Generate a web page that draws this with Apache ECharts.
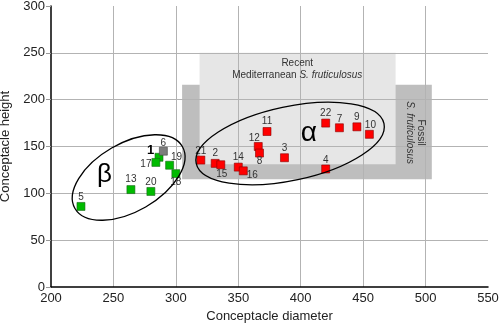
<!DOCTYPE html>
<html><head><meta charset="utf-8">
<script src="https://cdn.jsdelivr.net/npm/echarts@6/dist/echarts.min.js"></script>
<style>html,body{margin:0;padding:0;background:#fff}#c{width:500px;height:326px}</style>
</head><body><div id="c"></div>
<script>
// ---- data ----
const xTickValues = [200, 250, 300, 350, 400, 450, 500, 550];
const yTickValues = [0, 50, 100, 150, 200, 250, 300];

const betaIds      = ['5', '13', '20', '1', '17', '19', '18'];
const betaDiameter = [224, 264, 280, 286.5, 284, 295, 300];
const betaHeight   = [86, 104, 102, 138.5, 133, 130, 121];

const grayIds      = ['6'];
const grayDiameter = [290];
const grayHeight   = [145];

const alphaIds      = ['21', '2', '15', '14', '16', '12', '8', '11', '3', '4', '22', '7', '9', '10'];
const alphaDiameter = [320, 331.5, 336, 350, 354, 366, 367, 373, 387, 420, 420, 431, 445, 455];
const alphaHeight   = [135.5, 132, 130.5, 128, 124, 150, 143, 166, 138, 126, 175, 170, 171, 163];

// annotation regions (data units)
const fossilDiameter = [305, 505];
const fossilHeight   = [115, 216];
const recentDiameter = [319, 476];
const recentHeight   = [131, 250];

// ---- styling / placement ----
const FONT = 'Liberation Sans, Arial, sans-serif';
const labelOffset = {
  '5':[0,-9], '13':[0,-10], '20':[0,-9.5], '1':[-8.5,-7], '17':[-10,2], '6':[0,-8],
  '19':[7,-8], '18':[0,9], '21':[0,-9], '2':[0,-10], '15':[1,9], '14':[0,-10],
  '16':[9,4], '12':[-4,-8], '8':[0,8], '11':[0,-10], '3':[0,-9], '4':[0,-9],
  '22':[0,-10], '7':[0,-9], '9':[0,-10], '10':[1,-9]
};

function pts(ids, xs, ys) {
  return ids.map((id, i) => {
    const bold = id === '1';
    return {
      name: id,
      value: [xs[i], ys[i]],
      label: {
        offset: labelOffset[id],
        fontSize: bold ? 13 : 10,
        fontWeight: bold ? 'bold' : 'normal',
        color: bold ? '#000' : '#333'
      }
    };
  });
}

const baseLabel = {
  show: true, position: 'inside', fontFamily: FONT,
  formatter: p => p.name
};

const chart = echarts.init(document.getElementById('c'), null, {renderer: 'canvas'});

chart.setOption({
  animation: false,
  backgroundColor: '#fff',
  grid: {left: 51, right: 12, top: 6, bottom: 39, containLabel: false, outerBoundsMode: 'none'},
  xAxis: {
    type: 'value', min: xTickValues[0], max: xTickValues[xTickValues.length - 1], interval: 50,
    z: 2,
    name: 'Conceptacle diameter', nameLocation: 'middle', nameGap: 22,
    nameTextStyle: {fontFamily: FONT, fontSize: 13, color: '#222'},
    axisLine: {show: true, lineStyle: {color: '#000', width: 1.5}},
    axisTick: {show: false},
    axisLabel: {fontFamily: FONT, fontSize: 13, color: '#222', margin: 5},
    splitLine: {show: true, showMinLine: false, showMaxLine: false, lineStyle: {color: '#b3b3b3', width: 1}}
  },
  yAxis: {
    type: 'value', min: yTickValues[0], max: yTickValues[yTickValues.length - 1], interval: 50,
    z: 2,
    name: 'Conceptacle height', nameLocation: 'middle', nameGap: 37,
    nameTextStyle: {fontFamily: FONT, fontSize: 13, color: '#222'},
    axisLine: {show: true, lineStyle: {color: '#000', width: 1.5}},
    axisTick: {show: true, length: 5, lineStyle: {color: '#999'}},
    axisLabel: {fontFamily: FONT, fontSize: 13, color: '#222', margin: 6},
    splitLine: {show: true, showMinLine: false, showMaxLine: false, lineStyle: {color: '#b3b3b3', width: 1}}
  },
  series: [
    {
      type: 'line', data: [], silent: true, z: 1,
      markArea: {
        silent: true, z: 1,
        label: {show: false},
        data: [
          [{xAxis: fossilDiameter[0], yAxis: fossilHeight[0], itemStyle: {color: '#bebebe'}},
           {xAxis: fossilDiameter[1], yAxis: fossilHeight[1]}],
          [{xAxis: recentDiameter[0], yAxis: recentHeight[0], itemStyle: {color: '#e6e6e6'}},
           {xAxis: recentDiameter[1], yAxis: recentHeight[1]}]
        ]
      }
    },
    {
      type: 'scatter', z: 5, symbol: 'rect', symbolSize: 8,
      itemStyle: {color: '#00bb00', borderColor: '#1a661a', borderWidth: 0.6, opacity: 1},
      label: baseLabel,
      data: pts(betaIds, betaDiameter, betaHeight)
    },
    {
      type: 'scatter', z: 5, symbol: 'rect', symbolSize: 8,
      itemStyle: {color: '#7d7d7d', borderColor: '#444', borderWidth: 0.6, opacity: 1},
      label: baseLabel,
      data: pts(grayIds, grayDiameter, grayHeight)
    },
    {
      type: 'scatter', z: 5, symbol: 'rect', symbolSize: 8,
      itemStyle: {color: '#ff0000', borderColor: '#8a0000', borderWidth: 0.6, opacity: 1},
      label: baseLabel,
      data: pts(alphaIds, alphaDiameter, alphaHeight)
    }
  ]
});

// ---- annotations placed through the axes ----
const toPx = (x, y) => chart.convertToPixel({gridIndex: 0}, [x, y]);
const ellipses = [
  {center: [391.5, 153.2], rx: 96, ry: 37, angle: 12},
  {center: [262.2, 116.9], rx: 62, ry: 34, angle: 30}
];
const graphics = [];
ellipses.forEach(e => {
  const p = toPx(e.center[0], e.center[1]);
  graphics.push({
    type: 'ellipse', x: p[0], y: p[1], rotation: e.angle * Math.PI / 180, z: 10, silent: true,
    shape: {cx: 0, cy: 0, rx: e.rx, ry: e.ry},
    style: {fill: null, stroke: '#000', lineWidth: 1.3}
  });
});
function textAt(x, y, text, opts) {
  const p = toPx(x, y);
  graphics.push(Object.assign({
    type: 'text', x: p[0], y: p[1], z: 11, silent: true,
    style: Object.assign({
      text: text, fontFamily: FONT, fontSize: 10, fill: '#333',
      align: 'center', verticalAlign: 'middle', lineHeight: 12,
      rich: {i: {fontStyle: 'italic', fontFamily: FONT, fontSize: 10, fill: '#333', lineHeight: 12}}
    }, opts.style || {})
  }, opts.el || {}));
}
textAt(397.2, 232.5, 'Recent\nMediterranean {i|S. fruticulosus}', {});
textAt(492.1, 164.9, 'Fossil\n{i|S. fruticulosus}', {el: {rotation: -Math.PI / 2}, style: {lineHeight: 11, rich: {i: {fontStyle: 'italic', fontFamily: FONT, fontSize: 10, fill: '#333', lineHeight: 11}}}});
textAt(242.9, 119.5, 'β', {style: {fontSize: 26, fill: '#000', lineHeight: 30}});
textAt(406.6, 164.2, 'α', {style: {fontSize: 28, fill: '#000', lineHeight: 32}});
chart.setOption({graphic: {elements: graphics}});
</script>
</body></html>
